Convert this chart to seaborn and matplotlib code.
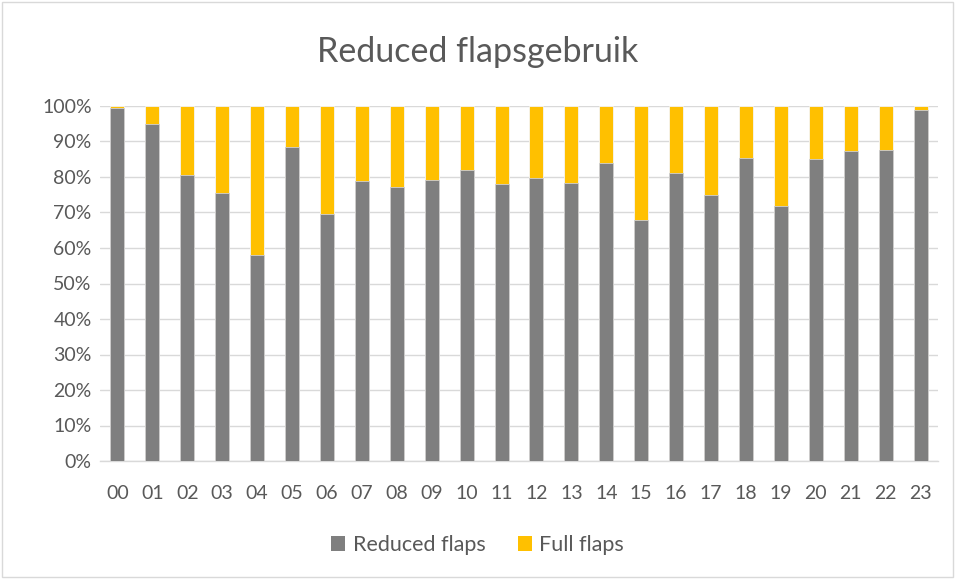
import matplotlib
matplotlib.use("Agg")
import matplotlib.pyplot as plt
import seaborn as sns
import pandas as pd
from matplotlib.patches import Rectangle
from matplotlib.ticker import FuncFormatter

hours = ["00", "01", "02", "03", "04", "05", "06", "07", "08", "09", "10", "11",
         "12", "13", "14", "15", "16", "17", "18", "19", "20", "21", "22", "23"]
reduced = [99.4, 94.9, 80.6, 75.6, 57.9, 88.4, 69.6, 78.8, 77.1, 79.2, 81.9, 77.9,
           79.8, 78.3, 83.9, 67.8, 81.0, 74.8, 85.4, 71.7, 85.1, 87.2, 87.6, 98.9]
full = [100 - r for r in reduced]

df = pd.DataFrame({"hour": hours, "reduced": reduced, "full": full})
df["total"] = df["reduced"] + df["full"]

sns.set_theme(style="white")
plt.rcParams["font.family"] = ["Lato", "DejaVu Sans"]

GREY = "#7f7f7f"
YELLOW = "#ffc000"
TXT = "#595959"

fig = plt.figure(figsize=(9.55, 5.79), dpi=100)
ax = fig.add_axes([100/955, 1 - 461/579, 838/955, 355/579])

sns.barplot(data=df, x="hour", y="total", color=YELLOW, width=0.4, ax=ax,
            saturation=1, edgecolor="#f5f5f5", linewidth=0.6, zorder=3)
sns.barplot(data=df, x="hour", y="reduced", color=GREY, width=0.4, ax=ax,
            saturation=1, edgecolor="#d0d0d0", linewidth=0.6, zorder=4)

ax.set_xlim(-0.5, 23.5)
ax.set_ylim(0, 100)
ax.set_yticks(range(0, 101, 10))
ax.yaxis.set_major_formatter(FuncFormatter(lambda v, p: f"{int(v)}%"))
ax.grid(axis="y", color="#d9d9d9", linewidth=1, zorder=0)
ax.set_axisbelow(True)
for s in ["left", "right", "top"]:
    ax.spines[s].set_visible(False)
ax.spines["bottom"].set_color("#d9d9d9")
ax.spines["bottom"].set_linewidth(1)
ax.tick_params(axis="both", length=0, labelsize=14, labelcolor=TXT)
ax.tick_params(axis="x", pad=17)
ax.tick_params(axis="y", pad=6)
ax.set_xlabel("")
ax.set_ylabel("")

fig.text(0.5, 1 - 52/579, "Reduced flapsgebruik", ha="center", va="center",
         fontsize=24.5, color=TXT)

handles = [Rectangle((0, 0), 1, 1, facecolor=GREY, edgecolor="none"),
           Rectangle((0, 0), 1, 1, facecolor=YELLOW, edgecolor="none")]
leg = fig.legend(handles, ["Reduced flaps", "Full flaps"],
                 loc="center", bbox_to_anchor=(0.5, 1 - 545/579), ncol=2,
                 frameon=False, fontsize=15.5, handlelength=0.65, handleheight=0.65,
                 handletextpad=0.35, columnspacing=1.5)
for t in leg.get_texts():
    t.set_color(TXT)

fig.patches.append(Rectangle((2/955, 2/579), 1 - 4/955, 1 - 4/579,
                             transform=fig.transFigure, fill=False,
                             edgecolor="#d9d9d9", linewidth=1))

fig.savefig("out.png", dpi=100, facecolor="white")
